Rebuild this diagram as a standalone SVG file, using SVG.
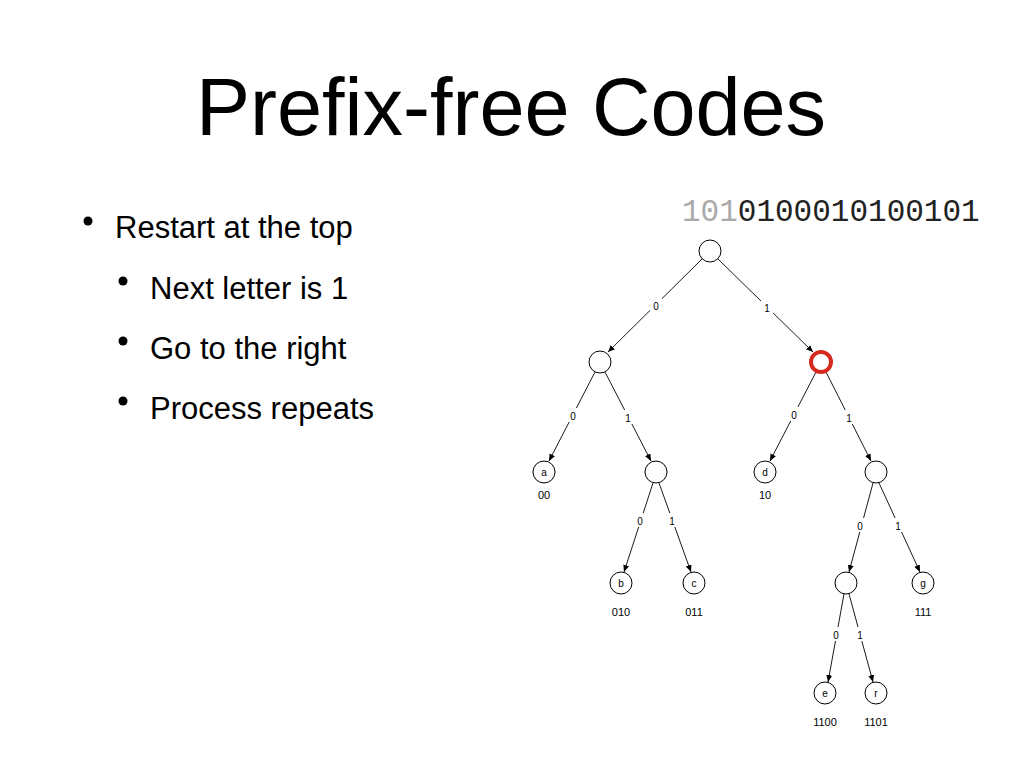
<svg xmlns="http://www.w3.org/2000/svg" width="1024" height="768" viewBox="0 0 1024 768">
<style>
.t{font-family:"Liberation Sans",Arial,sans-serif;fill:#000}
.n{fill:#fff;stroke:#000;stroke-width:1}
.e{stroke:#000;stroke-width:0.9;fill:none;marker-end:url(#ah)}
.l{font-family:"Liberation Sans",Arial,sans-serif;font-size:10px;text-anchor:middle;fill:#000}
.c{font-family:"Liberation Sans",Arial,sans-serif;font-size:11px;text-anchor:middle;fill:#000}
.b{fill:#000}
</style>
<defs><marker id="ah" markerWidth="8" markerHeight="8" refX="7" refY="3" orient="auto" markerUnits="userSpaceOnUse"><path d="M0,0 L7,3 L0,6 z"/></marker></defs>
<rect width="1024" height="768" fill="#fff"/>
<text class="t" x="511" y="135" font-size="81" text-anchor="middle">Prefix-free Codes</text>
<g class="t">
<circle class="b" cx="88" cy="221" r="4.5"/><text x="115" y="238" font-size="31">Restart at the top</text>
<circle class="b" cx="123" cy="281" r="4.5"/><text x="150" y="299" font-size="31">Next letter is 1</text>
<circle class="b" cx="123" cy="341" r="4.5"/><text x="150" y="359" font-size="31">Go to the right</text>
<circle class="b" cx="123" cy="401" r="4.5"/><text x="150" y="419" font-size="31">Process repeats</text>
</g>
<text x="682" y="221" font-family="Liberation Mono,monospace" font-size="31"><tspan fill="#aaa">101</tspan><tspan fill="#222">0100010100101</tspan></text>
<g id="connectors">
<line class="e" x1="702" y1="259" x2="608" y2="352"/>
<line class="e" x1="718" y1="259" x2="813" y2="352"/>
<line class="e" x1="595" y1="372" x2="549" y2="461"/>
<line class="e" x1="605" y1="372" x2="651" y2="461"/>
<line class="e" x1="816" y1="372" x2="770" y2="461"/>
<line class="e" x1="826" y1="372" x2="871" y2="461"/>
<line class="e" x1="653" y1="483" x2="624" y2="572"/>
<line class="e" x1="659" y1="483" x2="691" y2="572"/>
<line class="e" x1="873" y1="483" x2="849" y2="572"/>
<line class="e" x1="879" y1="483" x2="920" y2="572"/>
<line class="e" x1="844" y1="594" x2="828" y2="682"/>
<line class="e" x1="849" y1="594" x2="873" y2="682"/>
</g>
<g fill="#fff">
<rect x="650" y="298" width="12" height="14"/><rect x="761" y="300" width="12" height="14"/>
<rect x="567" y="408" width="12" height="14"/><rect x="622" y="410" width="12" height="14"/>
<rect x="788" y="407" width="12" height="14"/><rect x="843" y="410" width="12" height="14"/>
<rect x="634" y="513" width="12" height="14"/><rect x="666" y="513" width="12" height="14"/>
<rect x="854" y="518" width="12" height="14"/><rect x="892" y="518" width="12" height="14"/>
<rect x="830" y="627" width="12" height="14"/><rect x="854" y="627" width="12" height="14"/>
</g>
<g>
<text class="l" x="656" y="310">0</text><text class="l" x="767" y="312">1</text>
<text class="l" x="573" y="420">0</text><text class="l" x="628" y="422">1</text>
<text class="l" x="794" y="419">0</text><text class="l" x="849" y="422">1</text>
<text class="l" x="640" y="525">0</text><text class="l" x="672" y="525">1</text>
<text class="l" x="860" y="530">0</text><text class="l" x="898" y="530">1</text>
<text class="l" x="836" y="639">0</text><text class="l" x="860" y="639">1</text>
</g>
<g id="root"><circle class="n" cx="710" cy="251" r="11"/></g>
<g id="n0"><circle class="n" cx="600" cy="362" r="11"/></g>
<g id="n1"><circle cx="821" cy="362" r="10" fill="#fff" stroke="#d62a1e" stroke-width="4"/></g>
<g id="a"><circle class="n" cx="544" cy="472" r="11"/><text class="l" x="544" y="476">a</text><text class="c" x="544" y="499">00</text></g>
<g id="n01"><circle class="n" cx="656" cy="472" r="11"/></g>
<g id="d"><circle class="n" cx="765" cy="472" r="11"/><text class="l" x="765" y="476">d</text><text class="c" x="765" y="499">10</text></g>
<g id="n11"><circle class="n" cx="876" cy="472" r="11"/></g>
<g id="b"><circle class="n" cx="621" cy="583" r="11"/><text class="l" x="621" y="587">b</text><text class="c" x="621" y="616">010</text></g>
<g id="c"><circle class="n" cx="694" cy="583" r="11"/><text class="l" x="694" y="587">c</text><text class="c" x="694" y="616">011</text></g>
<g id="n110"><circle class="n" cx="846" cy="583" r="11"/></g>
<g id="g"><circle class="n" cx="923" cy="583" r="11"/><text class="l" x="923" y="587">g</text><text class="c" x="923" y="616">111</text></g>
<g id="e"><circle class="n" cx="825" cy="693" r="11"/><text class="l" x="825" y="697">e</text><text class="c" x="825" y="726">1100</text></g>
<g id="r"><circle class="n" cx="876" cy="693" r="11"/><text class="l" x="876" y="697">r</text><text class="c" x="876" y="726">1101</text></g>
</svg>
